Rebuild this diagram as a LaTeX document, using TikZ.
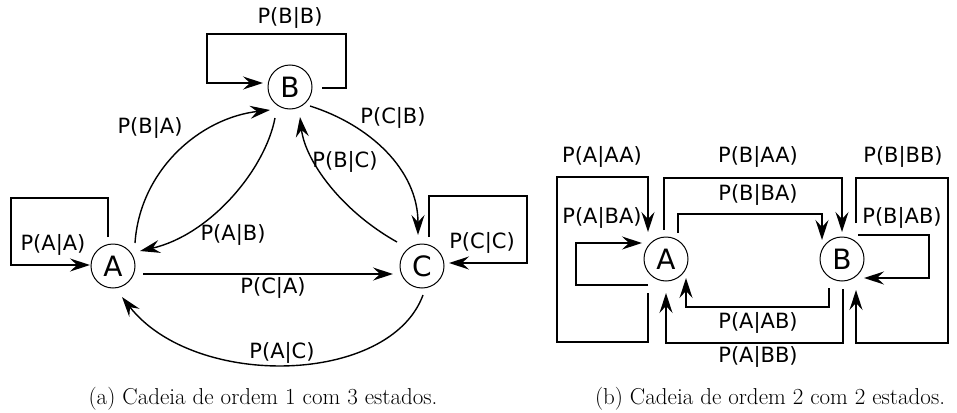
\documentclass[tikz,border=0pt]{standalone}
\usepackage{fontspec}
\newfontfamily\labfont{DejaVu Sans}
\usetikzlibrary{arrows.meta,calc}
\begin{document}
\begin{tikzpicture}[x=1pt,y=-1pt,
  st/.style={circle,draw,line width=1pt,minimum size=44pt,inner sep=0pt,font=\labfont\fontsize{28}{30}\selectfont},
  lbl/.style={font=\labfont\fontsize{21}{24}\selectfont,inner sep=0pt},
  edge/.style={line width=1.4pt,-{Stealth[length=20pt,width=13pt,inset=7pt]}},
  capt/.style={font=\fontsize{23}{27}\selectfont,inner sep=0pt,anchor=base}]
\useasboundingbox (0,0) rectangle (957,412);
% ---------- (a) ----------
\node[st] (A) at (113,266) {A};
\node[st] (B) at (290,87) {B};
\node[st] (C) at (422,266) {C};
% self loops
\draw[edge] ($(B)+(32,1)$) -| (346,34) -| (207,83) -- ($(B)+(-27,-4)$);
\draw[edge] ($(A)+(-5,-29)$) |- (11,198) |- ($(A)+(-23,-1)$);
\draw[edge] ($(C)+(7,-29)$) |- (527,196) |- ($(C)+(27,-3)$);
% transitions
\draw[edge] ($(A)+(22,-23)$) .. controls (140,170) and (200,118) .. ($(B)+(-20,23)$);
\draw[edge] ($(B)+(-15,31)$) .. controls (265,170) and (210,235) .. ($(A)+(27,-15)$);
\draw[edge] ($(B)+(20,19)$) .. controls (370,125) and (418,170) .. ($(C)+(-4,-31)$);
\draw[edge] ($(C)+(-25,-24)$) .. controls (340,210) and (305,160) .. ($(B)+(10,30)$);
\draw[edge] ($(A)+(30,8)$) -- ($(C)+(-29,8)$);
\draw[edge] ($(C)+(1,29)$) .. controls (390,385) and (195,390) .. ($(A)+(9,31)$);
% labels
\node[lbl] (lBB) at (290,18) {P(B|B)};
\node[lbl] (lAA) at (53,245) {P(A|A)};
\node[lbl] (lCC) at (482,243) {P(C|C)};
\node[lbl] (lBA) at (150,128) {P(B|A)};
\node[lbl] (lAB) at (233,235) {P(A|B)};
\node[lbl] (lCB) at (393,118) {P(C|B)};
\node[lbl] (lBC) at (345,162) {P(B|C)};
\node[lbl] (lCA) at (273,288) {P(C|A)};
\node[lbl] (lAC) at (282,353) {P(A|C)};
\node[capt] (capa) at (263,404) {(a) Cadeia de ordem 1 com 3 estados.};
% ---------- (b) ----------
\node[st] (A2) at (666,259) {A};
\node[st] (B2) at (842,259) {B};
\draw[edge] ($(A2)+(-18,34)$) |- (557,342) |- (648,177) -- ($(A2)+(-18,-27)$);
\draw[edge] ($(A2)+(-18,26)$) -| (576,243) -- ($(A2)+(-24,-16)$);
\draw[edge] ($(A2)+(-2,-29)$) |- (842,178) -- ($(B2)+(0,-27)$);
\draw[edge] ($(A2)+(12,-26)$) |- (822,214) -- ($(B2)+(-20,-19)$);
\draw[edge] ($(B2)+(14,-36)$) |- (948,178) |- (856,343) -- ($(B2)+(14,31)$);
\draw[edge] ($(B2)+(16,-24)$) -| (929,278) -- ($(B2)+(22,19)$);
\draw[edge] ($(B2)+(-13,29)$) |- (686,307) -- ($(A2)+(20,19)$);
\draw[edge] ($(B2)+(1,30)$) |- (666,343) -- ($(A2)+(0,34)$);
\node[lbl] (mAAA) at (602,157) {P(A|AA)};
\node[lbl] (mABA) at (602,218) {P(A|BA)};
\node[lbl] (mBAA) at (758,157) {P(B|AA)};
\node[lbl] (mBBA) at (758,195) {P(B|BA)};
\node[lbl] (mBBB) at (903,157) {P(B|BB)};
\node[lbl] (mBAB) at (902,218) {P(B|AB)};
\node[lbl] (mAAB) at (758,323) {P(A|AB)};
\node[lbl] (mABB) at (758,357) {P(A|BB)};
\node[capt] (capb) at (770,404) {(b) Cadeia de ordem 2 com 2 estados.};
\end{tikzpicture}
\end{document}
